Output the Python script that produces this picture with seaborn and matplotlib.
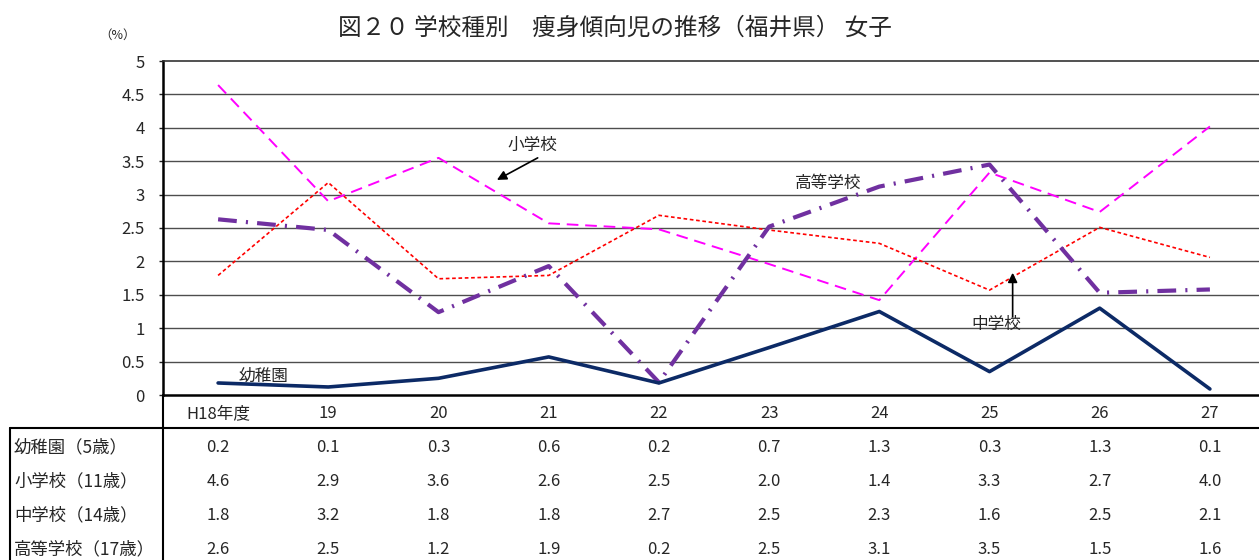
import matplotlib
matplotlib.use("Agg")
import matplotlib.pyplot as plt
import seaborn as sns
import pandas as pd
from matplotlib.lines import Line2D
from matplotlib.transforms import blended_transform_factory

sns.set_theme(style="white")
plt.rcParams['font.family'] = ['Noto Sans CJK JP', 'DejaVu Sans']

# ---- data ----
years = ["H18年度", "19", "20", "21", "22", "23", "24", "25", "26", "27"]
yochien = [0.18, 0.12, 0.25, 0.57, 0.18, 0.71, 1.25, 0.35, 1.30, 0.09]
shogakko = [4.64, 2.90, 3.55, 2.57, 2.48, 1.96, 1.42, 3.33, 2.74, 4.02]
chugakko = [1.79, 3.18, 1.74, 1.79, 2.69, 2.47, 2.27, 1.57, 2.51, 2.06]
koto = [2.63, 2.47, 1.24, 1.93, 0.19, 2.52, 3.12, 3.45, 1.53, 1.58]

table_yochien = ["0.2", "0.1", "0.3", "0.6", "0.2", "0.7", "1.3", "0.3", "1.3", "0.1"]
table_shogakko = ["4.6", "2.9", "3.6", "2.6", "2.5", "2.0", "1.4", "3.3", "2.7", "4.0"]
table_chugakko = ["1.8", "3.2", "1.8", "1.8", "2.7", "2.5", "2.3", "1.6", "2.5", "2.1"]
table_koto = ["2.6", "2.5", "1.2", "1.9", "0.2", "2.5", "3.1", "3.5", "1.5", "1.6"]
row_labels = ["幼稚園（5歳）", "小学校（11歳）", "中学校（14歳）", "高等学校（17歳）"]

yticks = [0, 0.5, 1, 1.5, 2, 2.5, 3, 3.5, 4, 4.5, 5]
ytick_labels = ["0", "0.5", "1", "1.5", "2", "2.5", "3", "3.5", "4", "4.5", "5"]

title = "図２０ 学校種別　痩身傾向児の推移（福井県） 女子"

# ---- figure ----
W, H = 1259, 560
fig = plt.figure(figsize=(W / 100, H / 100), dpi=100)
ax = fig.add_axes([163 / W, 1 - 395 / H, (1265 - 163) / W, (395 - 61) / H])

df = pd.DataFrame({"year": years, "yochien": yochien, "shogakko": shogakko,
                   "chugakko": chugakko, "koto": koto})

sns.lineplot(data=df, x="year", y="shogakko", ax=ax, color="#ff00ff", lw=1.4,
             sort=False)
ax.lines[-1].set_dashes((6, 3.5))
sns.lineplot(data=df, x="year", y="chugakko", ax=ax, color="#ff0000", lw=1.2,
             sort=False)
ax.lines[-1].set_dashes((2.2, 1.6))
sns.lineplot(data=df, x="year", y="koto", ax=ax, color="#7030a0", lw=3.0,
             sort=False)
ax.lines[-1].set_dashes((4.5, 2.2, 0.5, 2.2))
sns.lineplot(data=df, x="year", y="yochien", ax=ax, color="#0c2a66", lw=2.6,
             sort=False)

ax.set_xlim(-0.5, 9.5)
ax.set_ylim(0, 5)
ax.set_xlabel("")
ax.set_ylabel("")
ax.set_yticks(yticks)
ax.set_yticklabels(ytick_labels, fontsize=12)
ax.set_xticks(range(len(years)))
ax.set_xticklabels(years, fontsize=12)
ax.tick_params(axis="x", length=0, pad=7)
ax.tick_params(axis="y", length=3, width=1, color="#222222", pad=10, left=True)

for t in yticks[1:-1]:
    ax.axhline(t, color="#4d4d4d", lw=1.0, zorder=0)

ax.spines["right"].set_visible(False)
ax.spines["left"].set_color("black")
ax.spines["left"].set_linewidth(1.8)
ax.spines["bottom"].set_color("black")
ax.spines["bottom"].set_linewidth(1.8)
ax.spines["top"].set_color("#333333")
ax.spines["top"].set_linewidth(1.2)
ax.spines["top"].set_linestyle((0, (1, 1)))

# annotations
arrow = dict(arrowstyle="-|>", color="black", lw=1.2, shrinkA=0, shrinkB=0,
             mutation_scale=14)
ax.text(2.85, 3.74, "小学校", fontsize=12, ha="center", va="center")
ax.annotate("", xy=(2.53, 3.22), xytext=(2.90, 3.55), arrowprops=arrow)
ax.text(5.54, 3.16, "高等学校", fontsize=12, ha="center", va="center")
ax.text(7.06, 1.06, "中学校", fontsize=12, ha="center", va="center")
ax.annotate("", xy=(7.21, 1.83), xytext=(7.21, 1.17), arrowprops=arrow)
ax.text(0.41, 0.28, "幼稚園", fontsize=12, ha="center", va="center")

# (%) label and title
fig.text(118 / W, 1 - 35 / H, "（%）", fontsize=9, ha="center", va="center")
fig.text(615 / W, 1 - 28 / H, title, fontsize=17, ha="center", va="center")

# table
trans = blended_transform_factory(ax.transData, fig.transFigure)
rows = [table_yochien, table_shogakko, table_chugakko, table_koto]
row_y = [447, 481, 515, 549]
for lab, vals, py in zip(row_labels, rows, row_y):
    fig.text(14 / W, 1 - py / H, lab, fontsize=12.5, ha="left", va="center")
    for i, v in enumerate(vals):
        ax.text(i, 1 - py / H, v, transform=trans, fontsize=12,
                ha="center", va="center", clip_on=False)

# table borders
fig.add_artist(Line2D([10 / W, 1], [1 - 428 / H, 1 - 428 / H], color="black", lw=1.5))
fig.add_artist(Line2D([10 / W, 10 / W], [1 - 428 / H, 0], color="black", lw=1.5))
fig.add_artist(Line2D([163 / W, 163 / W], [1 - 395 / H, 0], color="black", lw=1.5))

fig.savefig("out.png", dpi=100)
